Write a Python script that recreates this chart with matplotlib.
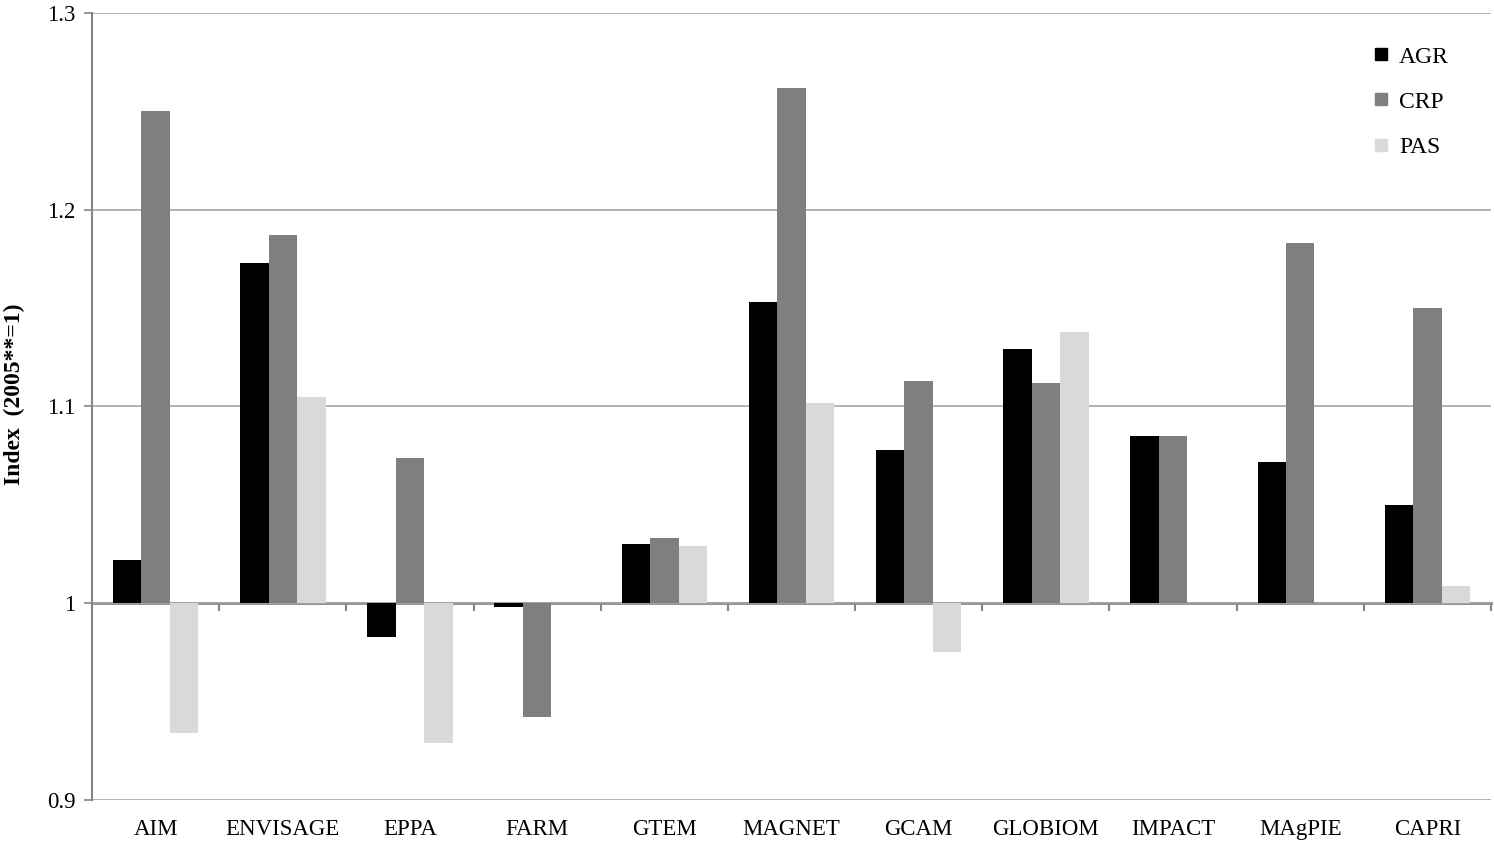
import numpy as np
import matplotlib
matplotlib.use("Agg")
import matplotlib.pyplot as plt
from matplotlib.lines import Line2D

# -----------------------------------------------
# Data (index 2005 = 1)
# -----------------------------------------------
models = ['AIM', 'ENVISAGE', 'EPPA', 'FARM', 'GTEM', 'MAGNET',
          'GCAM', 'GLOBIOM', 'IMPACT', 'MAgPIE', 'CAPRI']
agr = [1.022, 1.173, 0.983, 0.998, 1.030, 1.153, 1.078, 1.129, 1.085, 1.072, 1.050]
crp = [1.250, 1.187, 1.074, 0.942, 1.033, 1.262, 1.113, 1.112, 1.085, 1.183, 1.150]
pas = [0.934, 1.105, 0.929, 1.000, 1.029, 1.102, 0.975, 1.138, 1.000, 1.000, 1.009]
series_names = ['AGR', 'CRP', 'PAS']
y_ticks = [0.9, 1.0, 1.1, 1.2, 1.3]

colors = ['#000000', '#7f7f7f', '#d9d9d9']
grid_col = '#a6a6a6'
axis_col = '#868686'

plt.rcParams['font.family'] = ['Liberation Serif', 'DejaVu Serif']

fig = plt.figure(figsize=(14.94, 8.43), dpi=100)
ax = fig.add_axes([0.0616, 0.051, 0.9364, 0.9336])

x = np.arange(len(models))
width = 0.224
base = 1.0

for i, (vals, name) in enumerate(zip([agr, crp, pas], series_names)):
    vals = np.array(vals)
    ax.bar(x + (i - 1) * width, vals - base, width, bottom=base,
           color=colors[i], label=name, zorder=3, linewidth=0)

ax.set_xlim(-0.5, len(models) - 0.5)
ax.set_ylim(0.9, 1.3)
ax.set_yticks(y_ticks)
ax.set_yticklabels(['%g' % v for v in y_ticks], fontsize=16.5)
ax.yaxis.grid(True, color=grid_col, linewidth=1.2, zorder=0)

# category labels at the bottom, no tick marks
ax.set_xticks(x)
ax.set_xticklabels(models, fontsize=16.5)
ax.tick_params(axis='x', length=0, pad=14)
ax.tick_params(axis='y', length=6, width=1.2, color=axis_col, pad=6)

for s in ['top', 'right', 'bottom']:
    ax.spines[s].set_visible(False)
ax.spines['left'].set_color(axis_col)
ax.spines['left'].set_linewidth(1.5)

# horizontal axis line through 1.0 with ticks between categories
sec = ax.secondary_xaxis((base - 0.9) / 0.4)
sec.set_xticks(np.arange(-0.5, len(models), 1.0))
sec.set_xticklabels([])
sec.tick_params(axis='x', direction='out', length=6, width=1.5, color=axis_col)
sec.spines['bottom'].set_color(axis_col)
sec.spines['bottom'].set_linewidth(2)

ax.set_ylabel('Index  (2005**=1)', fontsize=17, fontweight='bold')
ax.yaxis.set_label_coords(-0.048, 0.515)

handles = [Line2D([], [], marker='s', linestyle='', markersize=9,
                  color=c, label=n) for c, n in zip(colors, series_names)]
ax.legend(handles=handles, loc='upper right', frameon=False, fontsize=17,
          labelspacing=1.0, handlelength=0.8, handletextpad=0.35,
          bbox_to_anchor=(0.985, 0.985))

plt.savefig('out.png', dpi=100)
